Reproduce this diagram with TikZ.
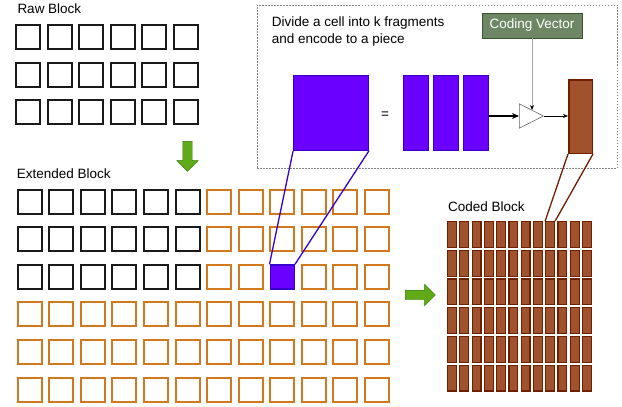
\documentclass[tikz,border=0pt]{standalone}
\usepackage{fontspec}
\setmainfont{Liberation Sans}
\usetikzlibrary{arrows.meta,shapes.geometric,shapes.arrows}
\definecolor{rawline}{HTML}{1A1A1A}
\definecolor{extline}{HTML}{D2781E}
\definecolor{purplefill}{HTML}{6A00FF}
\definecolor{purpleline}{HTML}{3700CC}
\definecolor{brownfill}{HTML}{A0522D}
\definecolor{brownline}{HTML}{6D1F00}
\definecolor{cvfill}{HTML}{6D8764}
\definecolor{cvline}{HTML}{3A5431}
\definecolor{greenfill}{HTML}{60A917}
\definecolor{greenline}{HTML}{2D7600}
\tikzset{
  cell/.style={draw, minimum size=24pt, inner sep=0pt, line width=2pt},
  rawcell/.style={cell, draw=rawline},
  extcell/.style={cell, draw=extline},
  codedcell/.style={draw=brownline, fill=brownfill, line width=1.2pt, minimum width=8.8pt, minimum height=25.8pt, inner sep=0pt},
  fragbox/.style={draw=purpleline, fill=purplefill, line width=0.8pt, inner sep=0pt},
  blockarrow/.style={single arrow, draw=greenline, fill=greenfill, line width=0.4pt, minimum height=30pt, minimum width=21pt, single arrow head extend=6pt, inner sep=4.5pt},
  blocktitle/.style={anchor=base west, inner sep=0pt, font=\fontsize{13.5}{16}\selectfont},
}

\begin{document}
\begin{tikzpicture}[x=1pt, y=-1pt]
		%%%%% START %%%%%
		\useasboundingbox (0,0) rectangle (622,407);
		
		% raw block
		\node[blocktitle] (rawtitle) at (17.3, 13) {Raw Block};
		\foreach \j in {0,...,2}
		  \foreach \i in {0,...,5}
		    \node[rawcell] (raw-\j-\i) at (28+31.6*\i, 37+37.5*\j) {};
		
		\node[blockarrow, rotate=-90] (arrdown) at (187.5, 154) {};
		
		% extended block
		\node[blocktitle] (exttitle) at (16.7, 178) {Extended Block};
		\foreach \j in {0,...,2}
		  \foreach \i in {0,...,5}
		    \node[rawcell] (ext-\j-\i) at (29.7+31.57*\i, 201.5+37.6*\j) {};
		\foreach \j in {0,...,2}
		  \foreach \i in {6,...,11}
		    {\ifnum\j\i=28 \else
		      \node[extcell] (ext-\j-\i) at (29.7+31.57*\i, 201.5+37.6*\j) {};
		    \fi}
		\foreach \j in {3,...,5}
		  \foreach \i in {0,...,11}
		    \node[extcell] (ext-\j-\i) at (29.7+31.57*\i, 201.5+37.6*\j) {};
		\node[cell, draw=purpleline, fill=purplefill, line width=1.5pt] (ext-2-8) at (29.7+31.57*8, 277) {};
		
		\node[blockarrow] (arrright) at (418, 295) {};
		
		% coded block
		\node[blocktitle] (codtitle) at (448, 211.7) {Coded Block};
		\foreach \j in {0,...,5}
		  \foreach \i in {0,...,11}
		    \node[codedcell] (cod-\j-\i) at (452+12.27*\i, 234.5+28.7*\j) {};
		
		% encoding panel
		\node[draw=gray, dash pattern=on 1.5pt off 1.5pt, line width=0.6pt, minimum width=360pt, minimum height=163pt, inner sep=0pt] (panel) at (437, 86.5) {};
		\node[blocktitle] (paneltext1) at (271.7, 26.7) {Divide a cell into k fragments};
		\node[blocktitle] (paneltext2) at (271.7, 43.3) {and encode to a piece};
		
		\node[draw=cvline, fill=cvfill, text=white, line width=0.6pt, minimum width=100pt, minimum height=25pt, inner sep=0pt, font=\fontsize{13.5}{16}\selectfont] (cv) at (532, 25.5) {Coding Vector};
		
		\node[fragbox, minimum size=75pt] (cellbig) at (331, 113) {};
		\node[font=\fontsize{13.5}{16}\selectfont] (eq) at (385, 115) {=};
		\node[fragbox, minimum width=25pt, minimum height=75pt] (frag1) at (416, 113) {};
		\node[fragbox, minimum width=25pt, minimum height=75pt] (frag2) at (446, 113) {};
		\node[fragbox, minimum width=25pt, minimum height=75pt] (frag3) at (476, 113) {};
		
		\node[isosceles triangle, isosceles triangle stretches, draw=gray!80!black, line width=0.6pt, minimum width=24.5pt, minimum height=24pt, inner sep=0pt, anchor=west] (amp) at (519, 116) {};
		
		\node[draw=brownline, fill=brownfill, line width=1.5pt, minimum width=23.5pt, minimum height=73.5pt, inner sep=0pt] (piece) at (580.5, 116.5) {};
		
		\draw[line width=2pt, -{Stealth[length=7pt, width=6pt]}] (frag3.east |- amp.west) -- (amp.west);
		\draw[gray!70, line width=1pt, -{Stealth[length=5pt, width=4pt, black]}, shorten >=6pt] (cv.south) -- (cv.south |- amp.west);
		\draw[line width=0.6pt, -{Stealth[length=5pt, width=4pt]}] (amp.apex) -- (piece.west |- amp.apex);
		
		% connectors to the blocks
		\draw[purpleline, line width=1.3pt] (cellbig.south west) -- (ext-2-8.north west);
		\draw[purpleline, line width=1.3pt] (cellbig.south east) -- (ext-2-8.north east);
		\draw[brownline, line width=1.3pt] (piece.south west) -- (cod-0-8.north west);
		\draw[brownline, line width=1.3pt] (piece.south east) -- (cod-0-8.north east);
		
		%%%%% END %%%%%
	\end{tikzpicture}
\end{document}
